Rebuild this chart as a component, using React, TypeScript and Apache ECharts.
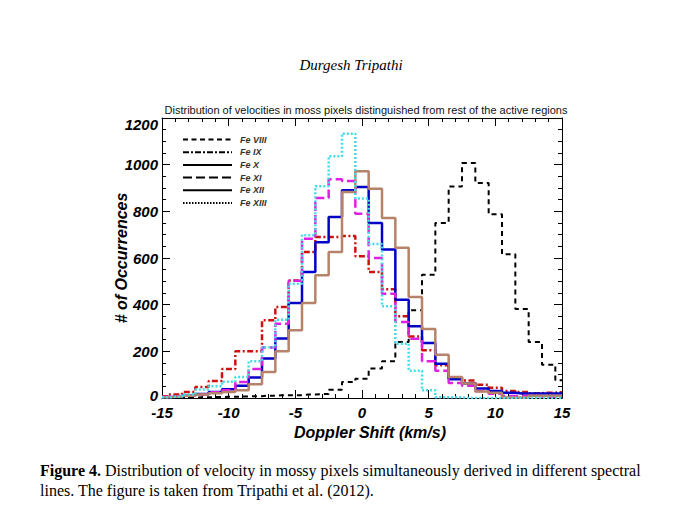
import React, { useEffect, useRef } from "react";
import * as echarts from "echarts";

// Doppler shift bin centres (km/s)
const shifts = [-15, -14, -13, -12, -11, -10, -9, -8, -7, -6, -5, -4, -3, -2, -1, 0, 1, 2, 3, 4, 5, 6, 7, 8, 9, 10, 11, 12, 13, 14, 15];

// Number of occurrences per bin, one array per spectral line
const feVIII = [0, 0, 2, 3, 4, 5, 6, 8, 10, 12, 12, 15, 17, 35, 69, 83, 126, 158, 240, 376, 528, 750, 906, 1007, 921, 787, 616, 381, 240, 143, 76];
const feIX = [8, 15, 26, 47, 73, 124, 200, 200, 333, 390, 504, 626, 690, 690, 694, 608, 540, 466, 350, 264, 205, 140, 88, 75, 57, 44, 30, 26, 20, 23, 25];
const feX = [3, 5, 10, 17, 26, 38, 52, 88, 169, 255, 407, 540, 668, 776, 890, 904, 750, 636, 421, 307, 236, 147, 80, 62, 41, 30, 22, 19, 19, 19, 19];
const feXI = [5, 8, 10, 15, 25, 33, 69, 124, 216, 318, 502, 683, 857, 937, 930, 790, 600, 447, 326, 254, 157, 117, 64, 52, 30, 18, 9, 9, 9, 5, 5];
const feXII = [3, 5, 10, 15, 20, 26, 33, 59, 111, 200, 290, 407, 526, 626, 883, 972, 897, 771, 644, 433, 296, 185, 90, 62, 28, 23, 2, 2, 10, 10, 10];
const feXIII = [3, 5, 15, 36, 50, 70, 90, 158, 218, 335, 490, 698, 908, 1036, 1133, 855, 660, 393, 233, 117, 33, 3, 3, 0, 0, 0, 0, 0, 0, 0, 0];

const lineNames = ["Fe VIII", "Fe IX", "Fe X", "Fe XI", "Fe XII", "Fe XIII"];

const headerText = "Durgesh Tripathi";
const titleText = "Distribution of velocities in moss pixels distinguished from rest of the active regions";
const xName = "Doppler Shift (km/s)";
const yName = "# of Occurrences";
const captionLine1 = "Distribution of velocity in mossy pixels simultaneously derived in different spectral";
const captionLine2 = "lines. The figure is taken from Tripathi et al. (2012).";

export default function App() {
  const ref = useRef<HTMLDivElement>(null);

  useEffect(() => {
    document.body.style.margin = "0";
    const chart = echarts.init(ref.current!, null, { renderer: "svg" });

    const defs = [
      { name: lineNames[0], data: feVIII, color: "#000000", dash: [5, 4], width: 2, legendDash: [5, 3.5] },
      { name: lineNames[1], data: feIX, color: "#cc1111", dash: [6, 2.5, 2, 2.5], width: 2.5, legendDash: [6, 2, 2, 2] },
      { name: lineNames[2], data: feX, color: "#0000c8", dash: null, width: 2.5, legendDash: null },
      { name: lineNames[3], data: feXI, color: "#e020e0", dash: [9, 4], width: 2.5, legendDash: [9, 4] },
      { name: lineNames[4], data: feXII, color: "#b5826a", dash: null, width: 2.5, legendDash: null },
      { name: lineNames[5], data: feXIII, color: "#40dde6", dash: [2, 2], width: 2.5, legendDash: [1.5, 1.5] },
    ];

    const sansBI = "Liberation Sans, Arial, sans-serif";
    const serif = "Liberation Serif, Times New Roman, serif";

    const boldItalic = {
      color: "#000",
      fontWeight: "bold" as const,
      fontStyle: "italic" as const,
      fontFamily: sansBI,
    };

    const axisCommon = {
      axisLine: { show: true, onZero: false, lineStyle: { color: "#000", width: 1 } },
      axisTick: { show: true, inside: true, length: 8, lineStyle: { color: "#000", width: 1 } },
      splitLine: { show: false },
    };

    const legendGraphics: any[] = [];
    defs.forEach((d, i) => {
      const y = 139.5 + i * 12.7;
      legendGraphics.push({
        type: "line",
        shape: { x1: 183, y1: y, x2: 232, y2: y },
        style: { stroke: "#000", lineWidth: 2, lineDash: d.legendDash || undefined },
      });
      legendGraphics.push({
        type: "text",
        x: 240,
        y: y,
        style: {
          text: d.name,
          fontSize: 9,
          fontWeight: "bold",
          fontStyle: "italic",
          fontFamily: sansBI,
          fill: "#333",
          verticalAlign: "middle",
        },
      });
    });

    const yRichBase = { ...boldItalic, fontSize: 15 };

    const option: any = {
      animation: false,
      backgroundColor: "#ffffff",
      grid: { left: 162, top: 118, width: 400, height: 280, containLabel: false },
      xAxis: [
        {
          type: "value",
          min: -15,
          max: 15,
          interval: 5,
          position: "bottom",
          ...axisCommon,
          minorTick: { show: true, splitNumber: 5, length: 4, lineStyle: { color: "#000", width: 1 } },
          axisLabel: { ...boldItalic, fontSize: 15, margin: 7, formatter: (v: number) => String(v) },
        },
        {
          type: "value",
          min: -15,
          max: 15,
          interval: 5,
          position: "top",
          ...axisCommon,
          minorTick: { show: true, splitNumber: 5, length: 4, lineStyle: { color: "#000", width: 1 } },
          axisLabel: { show: false },
        },
      ],
      yAxis: [
        {
          type: "value",
          min: 0,
          max: 1200,
          interval: 200,
          position: "left",
          ...axisCommon,
          minorTick: { show: true, splitNumber: 4, length: 4, lineStyle: { color: "#000", width: 1 } },
          axisLabel: {
            ...boldItalic,
            fontSize: 15,
            margin: 4,
            formatter: (v: number) => {
              if (v === 0) return "{z|0}";
              if (v === 1200) return "{t|1200}";
              return String(v);
            },
            rich: {
              z: { ...yRichBase, padding: [0, 0, 6, 0] },
              t: { ...yRichBase, padding: [12, 0, 0, 0] },
            },
          },
        },
        {
          type: "value",
          min: 0,
          max: 1200,
          interval: 200,
          position: "right",
          ...axisCommon,
          minorTick: { show: true, splitNumber: 4, length: 4, lineStyle: { color: "#000", width: 1 } },
          axisLabel: { show: false },
        },
      ],
      series: defs.map((d, i) => ({
        name: d.name,
        type: "line",
        step: "middle",
        xAxisIndex: 0,
        yAxisIndex: 0,
        symbol: "none",
        z: 2 + i,
        data: shifts.map((x, k) => [x, d.data[k]]),
        lineStyle: { color: d.color, width: d.width, type: d.dash || "solid" },
      })),
      graphic: [
        {
          type: "text",
          x: 351,
          y: 65,
          style: {
            text: headerText,
            fontSize: 15,
            fontStyle: "italic",
            fontFamily: serif,
            fill: "#000",
            align: "center",
            verticalAlign: "middle",
          },
        },
        {
          type: "text",
          x: 366,
          y: 110,
          style: {
            text: titleText,
            fontSize: 11,
            fontFamily: sansBI,
            fill: "#111",
            align: "center",
            verticalAlign: "middle",
          },
        },
        {
          type: "text",
          x: 370,
          y: 432,
          style: {
            text: xName,
            fontSize: 16,
            fontWeight: "bold",
            fontStyle: "italic",
            fontFamily: sansBI,
            fill: "#000",
            align: "center",
            verticalAlign: "middle",
          },
        },
        {
          type: "text",
          x: 121,
          y: 258,
          rotation: Math.PI / 2,
          style: {
            text: yName,
            fontSize: 16,
            fontWeight: "bold",
            fontStyle: "italic",
            fontFamily: sansBI,
            fill: "#000",
            align: "center",
            verticalAlign: "middle",
          },
        },
        {
          type: "text",
          x: 40,
          y: 470,
          style: {
            text: "{b|Figure 4.} " + captionLine1,
            fontSize: 16,
            fontFamily: serif,
            fill: "#000",
            align: "left",
            verticalAlign: "middle",
            rich: {
              b: {
                fontSize: 16,
                fontWeight: "bold",
                fontFamily: serif,
                fill: "#000",
              },
            },
          },
        },
        {
          type: "text",
          x: 40,
          y: 490,
          style: {
            text: captionLine2,
            fontSize: 16,
            fontFamily: serif,
            fill: "#000",
            align: "left",
            verticalAlign: "middle",
          },
        },
        ...legendGraphics,
      ],
    };

    chart.setOption(option);
    return () => chart.dispose();
  }, []);

  return <div ref={ref} style={{ width: 693, height: 531, background: "#fff" }} />;
}
